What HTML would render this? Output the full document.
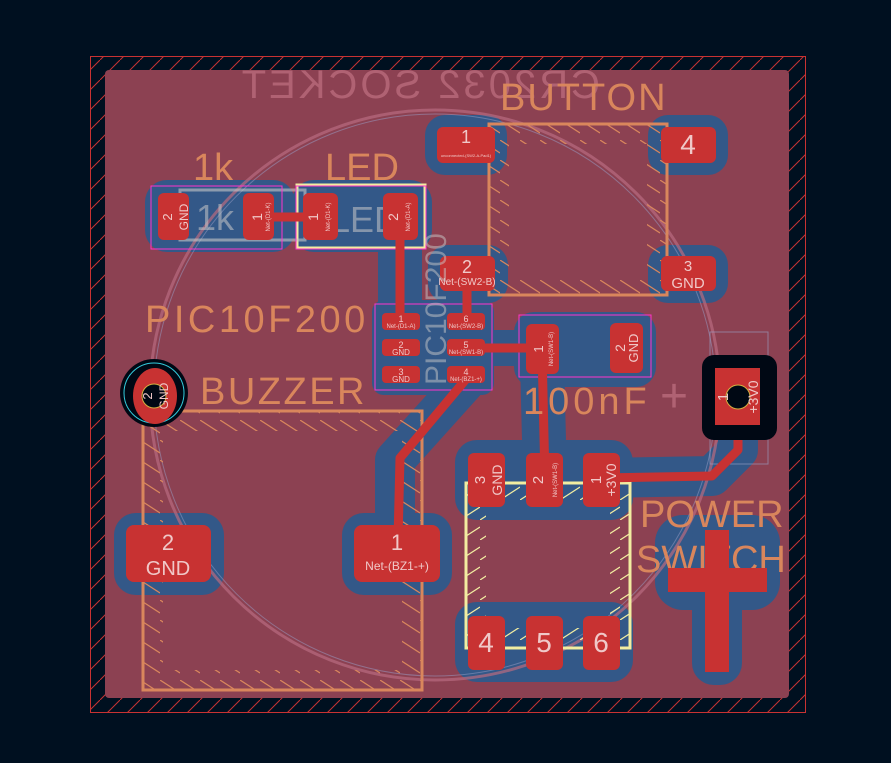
<!DOCTYPE html>
<html><head><meta charset="utf-8"><style>
html,body{margin:0;padding:0;background:#001020;}
svg{display:block}
text{font-family:"Liberation Sans",sans-serif;}
</style></head><body>
<svg width="891" height="763" viewBox="0 0 891 763" xmlns="http://www.w3.org/2000/svg">
<defs>
<pattern id="h" width="20" height="20" patternUnits="userSpaceOnUse">
<path d="M0 20 L20 0" stroke="#c83232" stroke-width="1"/>
</pattern>
<pattern id="so" width="20" height="20" patternUnits="userSpaceOnUse">
<path d="M0 0 L20 13" stroke="#d9865c" stroke-width="1.2"/>
</pattern>
<pattern id="sy" width="20" height="20" patternUnits="userSpaceOnUse">
<path d="M0 20 L20 7" stroke="#f2eda1" stroke-width="1.2"/>
</pattern>
<clipPath id="c1"><rect x="489" y="124" width="178" height="171"/></clipPath>
<clipPath id="c2"><rect x="143" y="411" width="279" height="279"/></clipPath>
<clipPath id="c3"><rect x="466" y="483" width="164" height="165"/></clipPath>
</defs>
<rect width="891" height="763" fill="#001020"/>
<rect x="90.5" y="56.5" width="715" height="656" fill="url(#h)" stroke="#c83232" stroke-width="1"/>
<rect x="105" y="70" width="684" height="628" rx="4" fill="#8c4152"/>

<g stroke="#335888" stroke-linecap="round" stroke-linejoin="round" fill="none">
<path d="M400 215 L400 320" stroke-width="44"/>
<path d="M467 275 L467 320" stroke-width="40"/>
<path d="M467 348 L540 348" stroke-width="36"/>
<path d="M542 360 L545 480" stroke-width="44"/>
<path d="M467 380 L395 460 L395 545" stroke-width="40"/>
<path d="M738 420 L738 450 L712 476 L600 478" stroke-width="40"/>
</g>
<g fill="#335888">
<rect x="145" y="180" width="150" height="72" rx="22"/>
<rect x="292" y="180" width="140" height="72" rx="22"/>
<rect x="425" y="115" width="82" height="60" rx="20"/>
<rect x="428" y="245" width="80" height="58" rx="20"/>
<rect x="648" y="115" width="80" height="60" rx="20"/>
<rect x="648" y="245" width="80" height="58" rx="20"/>
<rect x="372" y="300" width="122" height="95" rx="12"/>
<rect x="514" y="312" width="142" height="75" rx="20"/>
<rect x="455" y="440" width="178" height="80" rx="22"/>
<rect x="455" y="602" width="178" height="80" rx="22"/>
<rect x="114" y="513" width="110" height="82" rx="22"/>
<rect x="342" y="513" width="110" height="82" rx="22"/>
<rect x="655" y="515" width="125" height="95" rx="28"/>
<rect x="692" y="515" width="50" height="170" rx="22"/>
</g>

<circle cx="435" cy="395" r="285" fill="none" stroke="#b86b80" stroke-width="3" opacity="0.7"/>
<circle cx="435" cy="395" r="281" fill="none" stroke="#9aa0c8" stroke-width="1" opacity="0.5"/>

<text x="0" y="0" font-size="40" fill="#c8788a" opacity="0.6" transform="translate(600,98) scale(-1,1)" letter-spacing="3">CR2032 SOCKET</text>

<g clip-path="url(#c1)"><rect x="489" y="124" width="178" height="171" fill="none" stroke="url(#so)" stroke-width="40"/></g>
<rect x="489" y="124" width="178" height="171" fill="none" stroke="#d9865c" stroke-width="3"/>
<g clip-path="url(#c2)"><rect x="143" y="411" width="279" height="279" fill="none" stroke="url(#so)" stroke-width="40"/></g>
<rect x="143" y="411" width="279" height="279" fill="none" stroke="#d9865c" stroke-width="3"/>
<g clip-path="url(#c3)"><rect x="466" y="483" width="164" height="165" fill="none" stroke="url(#sy)" stroke-width="40"/></g>
<rect x="466" y="483" width="164" height="165" fill="none" stroke="#f2eda1" stroke-width="3"/>
<rect x="297" y="185" width="128" height="63" fill="none" stroke="#f2eda1" stroke-width="3"/>
<rect x="180" y="190" width="125" height="50" fill="none" stroke="#c8c8c8" stroke-width="3" opacity="0.6"/>
<rect x="375" y="304" width="117" height="86" fill="none" stroke="#ff33cc" stroke-width="1"/>
<rect x="519" y="315" width="132" height="62" fill="none" stroke="#ff33cc" stroke-width="1"/>
<rect x="151" y="186" width="131" height="63" fill="none" stroke="#ff33cc" stroke-width="1"/>
<rect x="296" y="186" width="130" height="63" fill="none" stroke="#ff33cc" stroke-width="1"/>
<rect x="710" y="332" width="58" height="132" fill="none" stroke="#9aa0c8" stroke-width="1" opacity="0.6"/>

<g stroke="#c83232" stroke-linecap="round" stroke-linejoin="round" fill="none" stroke-width="9">
<path d="M270 217 L320 217"/>
<path d="M400 215 L400 320"/>
<path d="M467 275 L467 320"/>
<path d="M467 348 L540 348"/>
<path d="M542 350 L545 480"/>
<path d="M467 378 L400 458 L398 540"/>
<path d="M738 420 L738 450 L712 476 L600 478"/>
</g>

<g fill="#d9865c" font-size="38">
<text x="500" y="110" letter-spacing="2">BUTTON</text>
<text x="193" y="180">1k</text>
<text x="325" y="180">LED</text>
<text x="145" y="332" letter-spacing="3.5">PIC10F200</text>
<text x="200" y="404" letter-spacing="2.5">BUZZER</text>
<text x="523" y="414" letter-spacing="4">100nF</text>
<text x="640" y="527">POWER</text>
<text x="636" y="572">SWITCH</text>
</g>
<text x="196" y="230" font-size="36" fill="#c8c8c8" opacity="0.55">1k</text>
<text x="330" y="232" font-size="36" fill="#c8c8c8" opacity="0.55">LED</text>
<text x="660" y="412" font-size="48" fill="#c8788a" opacity="0.6">+</text>

<g fill="#c83232">
<rect x="158" y="193" width="31" height="47" rx="6"/>
<rect x="243" y="193" width="31" height="47" rx="6"/>
<rect x="303" y="193" width="35" height="47" rx="6"/>
<rect x="383" y="193" width="35" height="47" rx="6"/>
<rect x="437" y="127" width="58" height="36" rx="6"/>
<rect x="440" y="256" width="55" height="35" rx="6"/>
<rect x="661" y="127" width="55" height="36" rx="6"/>
<rect x="661" y="256" width="55" height="35" rx="6"/>
<rect x="382" y="313" width="38" height="17" rx="4"/>
<rect x="382" y="339" width="38" height="17" rx="4"/>
<rect x="382" y="366" width="38" height="17" rx="4"/>
<rect x="447" y="313" width="38" height="17" rx="4"/>
<rect x="447" y="339" width="38" height="17" rx="4"/>
<rect x="447" y="366" width="38" height="17" rx="4"/>
<rect x="526" y="324" width="33" height="50" rx="6"/>
<rect x="610" y="323" width="33" height="50" rx="6"/>
<rect x="468" y="453" width="37" height="54" rx="6"/>
<rect x="526" y="453" width="37" height="54" rx="6"/>
<rect x="583" y="453" width="37" height="54" rx="6"/>
<rect x="468" y="616" width="37" height="54" rx="6"/>
<rect x="526" y="616" width="37" height="54" rx="6"/>
<rect x="583" y="616" width="37" height="54" rx="6"/>
<rect x="126" y="525" width="85" height="57" rx="8"/>
<rect x="354" y="525" width="86" height="57" rx="8"/>
<rect x="668" y="568" width="99" height="24"/>
<rect x="705" y="530" width="24" height="142"/>
</g>
<rect x="702" y="355" width="75" height="85" rx="12" fill="#000814"/>
<rect x="715" y="368" width="45" height="57" fill="#c83232"/>
<circle cx="738" cy="397" r="12" fill="#000814" stroke="#d4b040" stroke-width="1"/>
<circle cx="154" cy="393" r="34" fill="#000814"/>
<circle cx="154" cy="393" r="30" fill="none" stroke="#33ccdd" stroke-width="1"/>
<ellipse cx="155" cy="396" rx="22" ry="28" fill="#c83232"/>
<circle cx="154" cy="396" r="12" fill="#000814" stroke="#d4b040" stroke-width="1"/>

<g fill="#f0c8c8" text-anchor="middle">
<text x="466" y="143" font-size="18">1</text>
<text x="466" y="157" font-size="4">unconnected-(SW2-A-Pad1)</text>
<text x="467" y="273" font-size="18">2</text>
<text x="467" y="285" font-size="10">Net-(SW2-B)</text>
<text x="688" y="154" font-size="28">4</text>
<text x="688" y="271" font-size="15">3</text>
<text x="688" y="288" font-size="15">GND</text>
<text x="401" y="322" font-size="9">1</text><text x="401" y="328" font-size="6">Net-(D1-A)</text>
<text x="401" y="348" font-size="9">2</text><text x="401" y="355" font-size="8">GND</text>
<text x="401" y="375" font-size="9">3</text><text x="401" y="382" font-size="8">GND</text>
<text x="466" y="322" font-size="9">6</text><text x="466" y="328" font-size="6">Net-(SW2-B)</text>
<text x="466" y="348" font-size="9">5</text><text x="466" y="354" font-size="6">Net-(SW1-B)</text>
<text x="466" y="375" font-size="9">4</text><text x="466" y="381" font-size="6">Net-(BZ1-+)</text>
<text x="168" y="550" font-size="22">2</text>
<text x="168" y="575" font-size="20">GND</text>
<text x="397" y="550" font-size="22">1</text>
<text x="397" y="570" font-size="12">Net-(BZ1-+)</text>
<text x="486" y="652" font-size="28">4</text>
<text x="544" y="652" font-size="28">5</text>
<text x="601" y="652" font-size="28">6</text>
</g>
<g fill="#f0c8c8" text-anchor="middle">
<text transform="translate(172,217) rotate(-90)" font-size="13">2</text>
<text transform="translate(188,217) rotate(-90)" font-size="12">GND</text>
<text transform="translate(262,217) rotate(-90)" font-size="14">1</text>
<text transform="translate(270,217) rotate(-90)" font-size="6">Net-(D1-K)</text>
<text transform="translate(318,217) rotate(-90)" font-size="14">1</text>
<text transform="translate(330,217) rotate(-90)" font-size="6">Net-(D1-K)</text>
<text transform="translate(398,217) rotate(-90)" font-size="14">2</text>
<text transform="translate(410,217) rotate(-90)" font-size="6">Net-(D1-A)</text>
<text transform="translate(543,349) rotate(-90)" font-size="13">1</text>
<text transform="translate(553,349) rotate(-90)" font-size="6">Net-(SW1-B)</text>
<text transform="translate(625,348) rotate(-90)" font-size="14">2</text>
<text transform="translate(638,348) rotate(-90)" font-size="13">GND</text>
<text transform="translate(485,480) rotate(-90)" font-size="15">3</text>
<text transform="translate(502,480) rotate(-90)" font-size="14">GND</text>
<text transform="translate(543,480) rotate(-90)" font-size="15">2</text>
<text transform="translate(557,480) rotate(-90)" font-size="6">Net-(SW1-B)</text>
<text transform="translate(601,480) rotate(-90)" font-size="15">1</text>
<text transform="translate(616,480) rotate(-90)" font-size="14">+3V0</text>
<text transform="translate(728,397) rotate(-90)" font-size="15">1</text>
<text transform="translate(758,397) rotate(-90)" font-size="14">+3V0</text>
<text transform="translate(152,396) rotate(-90)" font-size="13">2</text>
<text transform="translate(168,396) rotate(-90)" font-size="12">GND</text>
</g>
<text transform="translate(446,385) rotate(-90)" font-size="30" fill="#c8c8c8" opacity="0.5">PIC10F200</text>
</svg>
</body></html>
